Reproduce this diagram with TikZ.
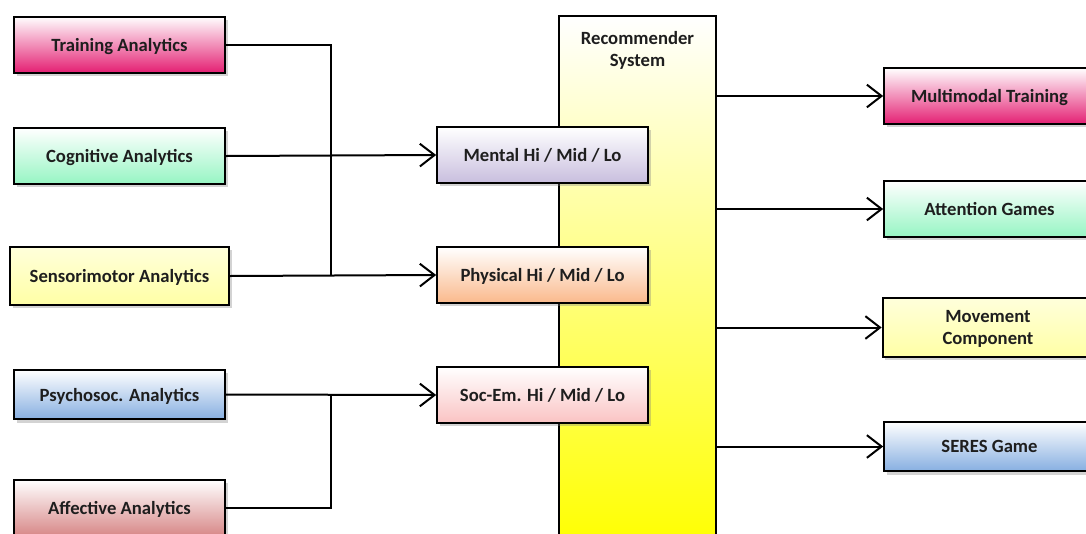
\documentclass[tikz,border=0pt]{standalone}
\usepackage{fontspec}
\setmainfont{Carlito}
\usetikzlibrary{positioning, calc, arrows.meta, shadows}

\definecolor{trainC}{RGB}{228,32,115}
\definecolor{cognC}{RGB}{150,245,195}
\definecolor{sensoC}{RGB}{255,255,165}
\definecolor{psychoC}{RGB}{135,175,225}
\definecolor{affectC}{RGB}{215,135,135}
\definecolor{mentalC}{RGB}{200,190,222}
\definecolor{physC}{RGB}{250,185,140}
\definecolor{socemC}{RGB}{250,195,195}
\definecolor{txtC}{RGB}{30,30,30}

\begin{document}
\begin{tikzpicture}[x=0.75pt,y=-0.75pt,
    box/.style={draw=black, line width=1.5pt, top color=white,
      font=\bfseries\fontsize{14}{16.5}\selectfont, text=txtC, align=center,
      text depth=0pt, minimum width=158pt, minimum height=42pt, inner sep=2pt,
      drop shadow={shadow xshift=2pt, shadow yshift=-2.5pt, opacity=.35}},
    wire/.style={line width=1.5pt},
    arr/.style={wire, -{Straight Barb[length=11pt,width=17pt,line width=1.5pt]}}]

        \clip (0,0) rectangle (1086,533);

        % Recommender System column
        \node[draw=black, line width=1.5pt, top color=white, bottom color=yellow,
              minimum width=117.75pt, minimum height=397.5pt, anchor=north] (rec) at (637.5,15) {};
        \node[font=\bfseries\fontsize{14}{16.5}\selectfont, text=txtC, align=center,
              below=8.5pt of rec.north] (rectitle) {Recommender\\System};

        % Analytics (left column)
        \node[box, bottom color=trainC] (train) at (119.5,44.5) {Training Analytics};
        \node[box, bottom color=cognC] (cogn) at (119.5,156) {Cognitive Analytics};
        \node[box, top color=sensoC!40, bottom color=sensoC, minimum width=164pt, minimum height=43.5pt] (senso) at (119.5,276) {Sensorimotor Analytics};
        \node[box, bottom color=psychoC, minimum height=37pt] (psycho) at (119.5,394.5) {Psychosoc. Analytics};
        \node[box, bottom color=affectC] (affect) at (119.5,508) {Affective Analytics};

        % Levels (middle column)
        \node[box, bottom color=mentalC] (mental) at (542.5,155) {Mental Hi / Mid / Lo};
        \node[box, bottom color=physC] (phys) at (542.5,275) {Physical Hi / Mid / Lo};
        \node[box, bottom color=socemC] (socem) at (542.5,395) {Soc-Em. Hi / Mid / Lo};

        % Outputs (right column)
        \node[box, bottom color=trainC] (multi) at (989.5,96) {Multimodal Training};
        \node[box, bottom color=cognC] (atten) at (989.5,209) {Attention Games};
        \node[box, top color=sensoC!40, bottom color=sensoC, minimum height=44pt] (move) at (988,327.5) {Movement\\Component};
        \node[box, bottom color=psychoC, minimum height=37pt] (seres) at (989.5,446.5) {SERES Game};

        % Junction points
        \coordinate (jA) at (331,276);
        \coordinate (jB) at (331,394.5);

        % Analytics to levels
        \draw[wire] (train.east) -| (jA);
        \draw[arr] (cogn.east) -- (mental.west);
        \draw[arr] (senso.east) -- (phys.west);
        \draw[wire] (affect.east) -| (jB);
        \draw[arr] (psycho.east) -- (socem.west);

        % Recommender to outputs
        \draw[arr] (rec.east |- multi.west) -- (multi.west);
        \draw[arr] (rec.east |- atten.west) -- (atten.west);
        \draw[arr] (rec.east |- move.west) -- (move.west);
        \draw[arr] (rec.east |- seres.west) -- (seres.west);

    \end{tikzpicture}
\end{document}
